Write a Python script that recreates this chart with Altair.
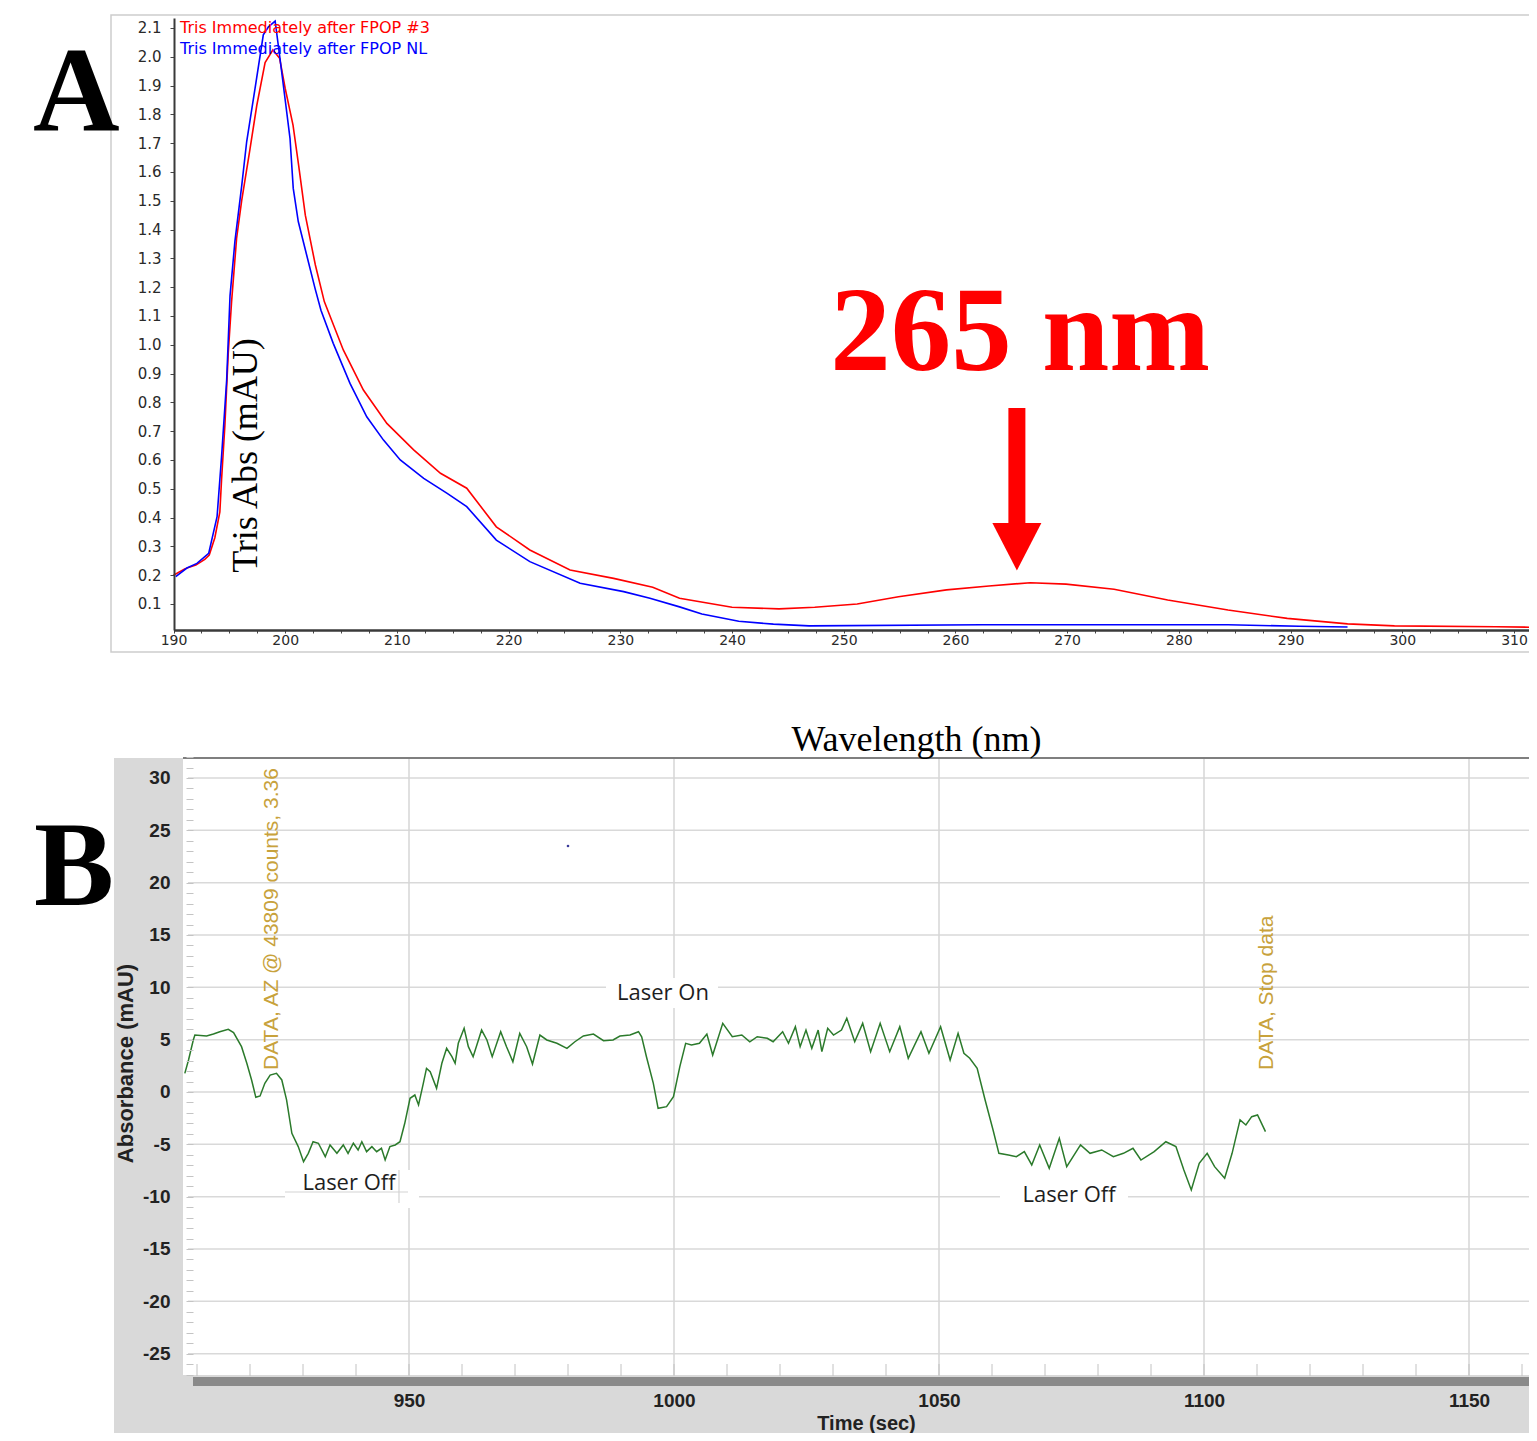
import altair as alt
import pandas as pd

W, H = 1521, 1425

# ---------------- Panel A : UV spectra ----------------
series_names = ["Tris Immediately after FPOP #3", "Tris Immediately after FPOP NL"]
series_colors = ["#ff0000", "#0000ff"]

red_nm = [190, 191, 192, 192.8, 193.2, 193.7, 194.15, 194.3, 194.6, 194.9,
          195.2, 195.65, 196.1, 196.85, 197.45, 198.2, 198.9, 199.5, 200.0, 200.7,
          201.2, 201.8, 202.7, 203.5, 205.2, 207.0, 209.1, 211.5, 213.9, 216.25,
          218.9, 221.9, 225.5, 229.4, 232.9, 235.3, 240.0, 244.2, 247.4, 251.2,
          254.9, 259.2, 263.0, 266.7, 269.9, 274.2, 279.0, 284.4, 289.7, 295.1,
          299.3, 308.4, 312.1]
red_abs = [0.200, 0.222, 0.235, 0.255, 0.27, 0.33, 0.42, 0.53, 0.72, 0.97,
           1.15, 1.37, 1.50, 1.68, 1.83, 1.98, 2.024, 1.995, 1.89, 1.763,
           1.624, 1.45, 1.277, 1.15, 0.982, 0.843, 0.727, 0.635, 0.554, 0.502,
           0.368, 0.2875, 0.218, 0.189, 0.158, 0.12, 0.0885, 0.083, 0.0885, 0.10,
           0.125, 0.149, 0.1625, 0.174, 0.169, 0.151, 0.114, 0.079, 0.05, 0.031,
           0.024, 0.021, 0.019]

blue_nm = [190.2, 191.2, 192.1, 193.15, 193.9, 194.3, 194.76, 195.06, 195.5, 196.1,
           196.55, 197.3, 198.04, 198.5, 199.1, 199.53, 199.98, 200.43, 200.72, 201.17,
           201.92, 202.67, 203.2, 204.3, 205.8, 207.3, 208.8, 210.3, 212.4, 214.5,
           216.25, 218.9, 221.9, 226.4, 230.3, 232.65, 235.3, 237.3, 240.6, 243.7,
           246.9, 262.4, 284.4, 290.8, 295.1]
blue_abs = [0.195, 0.225, 0.241, 0.276, 0.403, 0.61, 0.878, 1.17, 1.36, 1.55,
            1.705, 1.89, 2.076, 2.104, 2.124, 1.995, 1.856, 1.717, 1.543, 1.428,
            1.312, 1.196, 1.12, 1.005, 0.866, 0.75, 0.669, 0.60, 0.536, 0.484,
            0.438, 0.322, 0.247, 0.172, 0.143, 0.12, 0.09, 0.065, 0.04, 0.03,
            0.024, 0.028, 0.028, 0.0226, 0.02]

a_yticks = [round(0.1 * i, 1) for i in range(1, 22)]
a_xticks = [190 + 2.5 * i for i in range(49)]

peak_nm = [265.5]          # arrow position (nm)
peak_label = ["265 nm"]

# ---------------- Panel B : absorbance vs time ----------------
b_time = [907.7, 908.4, 909.3, 909.6, 911.8, 913.1, 914.3, 915.9, 916.9, 918.4,
          919.4, 920.3, 921.1, 921.9, 922.8, 923.8, 925.0, 926.0, 926.9, 927.9,
          929.1, 930.1, 931.0, 931.9, 932.9, 934.2, 935.1, 936.4, 937.6, 938.5,
          939.5, 940.4, 941.1, 942.0, 943.0, 943.9, 944.8, 945.5, 946.4, 947.4,
          948.3, 949.2, 950.2, 951.1, 951.8, 952.7, 953.3, 954.0, 955.2, 956.2,
          957.1, 958.1, 958.7, 959.3, 960.4, 961.2, 962.1, 963.7, 964.7, 965.7,
          967.3, 968.4, 969.6, 970.9, 972.2, 973.3, 974.7, 976.0, 977.9, 979.8,
          981.3, 982.9, 984.8, 986.7, 988.5, 989.8, 991.7, 993.3, 993.9, 994.8,
          996.1, 997.0, 998.6, 999.9, 1001.1, 1002.2, 1003.3, 1004.8, 1006.2, 1007.3,
          1009.2, 1011.0, 1012.8, 1014.3, 1015.7, 1017.6, 1018.7, 1020.5, 1021.6, 1022.9,
          1023.8, 1024.9, 1026.0, 1027.2, 1027.9, 1029.0, 1030.1, 1031.6, 1032.6, 1034.1,
          1035.6, 1037.1, 1038.9, 1040.7, 1042.6, 1044.2, 1046.6, 1048.1, 1050.3, 1052.1,
          1053.6, 1054.7, 1055.8, 1057.2, 1058.7, 1060.2, 1061.3, 1063.1, 1064.6, 1066.1,
          1067.5, 1069.0, 1070.8, 1072.7, 1074.1, 1076.7, 1078.5, 1080.7, 1082.9, 1084.8,
          1086.6, 1088.1, 1090.6, 1092.8, 1094.7, 1096.2, 1097.6, 1099.1, 1100.6, 1102.0,
          1103.9, 1105.3, 1106.8, 1107.9, 1109.0, 1110.1, 1111.6]
b_abs = [1.78, 3.06, 4.97, 5.44, 5.35, 5.54, 5.76, 5.99, 5.67, 4.33,
         2.74, 1.15, -0.51, -0.38, 0.83, 1.62, 1.78, 1.15, -0.76, -3.95,
         -5.22, -6.66, -5.86, -4.75, -4.90, -6.18, -5.06, -5.86, -5.06, -5.86,
         -4.90, -5.54, -4.75, -5.70, -5.22, -5.70, -5.38, -6.50, -5.22, -5.06,
         -4.75, -2.99, -0.60, -0.29, -1.24, 0.83, 2.26, 1.94, 0.35, 2.74,
         4.17, 3.37, 2.74, 4.65, 6.08, 4.33, 3.37, 5.92, 4.97, 3.37,
         5.76, 4.33, 2.89, 5.60, 4.33, 2.67, 5.44, 4.97, 4.65, 4.17,
         4.80, 5.35, 5.54, 4.90, 4.97, 5.35, 5.44, 5.76, 5.28, 3.37,
         0.83, -1.56, -1.40, -0.45, 2.42, 4.65, 4.49, 4.65, 5.54, 3.53,
         6.56, 5.28, 5.44, 4.80, 5.28, 5.13, 4.80, 5.76, 4.65, 6.24,
         4.33, 5.92, 4.17, 5.92, 3.85, 6.08, 5.44, 5.92, 7.04, 4.80,
         6.56, 3.85, 6.56, 3.85, 6.24, 3.22, 5.76, 3.70, 6.24, 3.06,
         5.60, 3.70, 3.22, 2.26, -0.76, -3.63, -5.86, -6.02, -6.18, -5.70,
         -6.97, -5.06, -7.29, -4.42, -7.13, -5.06, -5.86, -5.54, -6.18, -5.86,
         -5.38, -6.50, -5.70, -4.75, -5.22, -7.45, -9.36, -6.81, -5.86, -7.13,
         -8.25, -5.86, -2.67, -3.15, -2.36, -2.20, -3.79]

b_yticks = list(range(-27, 33))
b_grid_y = list(range(-25, 31, 5))
b_grid_x = [950, 1000, 1050, 1100, 1150]
b_minor_x = list(range(910, 1161, 10))
b_event_time = [925.3, 1113.1]
b_event_text = ["DATA, AZ @ 43809 counts, 3.36", "DATA, Stop data"]
b_stray_time = [980.0]
b_stray_abs = [23.5]

# ---------------- scales & axes ----------------
sxA = alt.Scale(domain=[190, 312.06], range=[165.5, 1529], nice=False, zero=False)
syA = alt.Scale(domain=[0.00972, 2.1347], range=[622, 10], nice=False, zero=False)
sxB = alt.Scale(domain=[909.245, 1162.83], range=[185, 1529], nice=False, zero=False)
syB = alt.Scale(domain=[-27.04, 32.006], range=[1367, 749], nice=False, zero=False)

axXA = alt.Axis(orient="bottom", offset=-(H - 622), values=a_xticks, grid=False,
                labelExpr="datum.value % 10 === 0 ? '' + datum.value : ''",
                domain=True, domainColor="#3a3a3a", domainWidth=2.5,
                ticks=True, tickSize=3, tickColor="#444", tickWidth=1,
                labelFont="DejaVu Sans", labelFontSize=14, labelColor="#2a2a2a",
                labelPadding=0, labelFlush=False, labelOverlap=False,
                title="Wavelength (nm)", titleFont="Liberation Serif", titleFontSize=36,
                titleFontWeight="normal", titleColor="#000", titleX=908, titleY=120,
                titleAlign="center", titleBaseline="alphabetic", zindex=1)
axYA = alt.Axis(orient="left", offset=-166, values=a_yticks, format=".1f", grid=False,
                domain=True, domainColor="#3a3a3a", domainWidth=2,
                ticks=True, tickSize=4, tickColor="#444", tickWidth=1,
                labelFont="DejaVu Sans", labelFontSize=15, labelColor="#2a2a2a",
                labelPadding=9, labelOverlap=False,
                title="Tris Abs (mAU)", titleFont="Liberation Serif", titleFontSize=36,
                titleFontWeight="normal", titleColor="#000", titleAngle=270,
                titleX=82, titleY=447, titleAlign="center", titleBaseline="alphabetic",
                zindex=1)
axXB = alt.Axis(orient="bottom", offset=-(H - 1373), values=b_grid_x, grid=False,
                labelExpr="'' + datum.value",
                domain=False, ticks=False, tickSize=0,
                labelFont="Liberation Sans", labelFontWeight="bold", labelFontSize=19,
                labelColor="#222", labelPadding=10, labelBaseline="top",
                labelFlush=False, labelOverlap=False,
                title="Time (sec)", titleFont="Liberation Sans", titleFontSize=20,
                titleFontWeight="bold", titleColor="#222", titleX=858, titleY=48,
                titleAlign="center", titleBaseline="alphabetic", zindex=1)
axYB = alt.Axis(orient="left", offset=-185, values=b_yticks, grid=False,
                labelExpr="(datum.value % 5 === 0 && datum.value >= -25 && datum.value <= 30) ? '' + datum.value : ''",
                domain=False, ticks=True, tickSize=7, tickColor="#c4c4c4", tickWidth=1,
                labelFont="Liberation Sans", labelFontWeight="bold", labelFontSize=19,
                labelColor="#222", labelPadding=16, labelOverlap=False,
                title="Absorbance (mAU)", titleFont="Liberation Sans", titleFontSize=22,
                titleFontWeight="bold", titleColor="#222", titleAngle=270,
                titleX=-68, titleY=1055, titleAlign="center", titleBaseline="middle",
                zindex=1)


def xA(f):
    return alt.X(f"{f}:Q", scale=sxA, axis=axXA)


def yA(f):
    return alt.Y(f"{f}:Q", scale=syA, axis=axYA)


def xB(f):
    return alt.X(f"{f}:Q", scale=sxB, axis=axXB)


def yB(f):
    return alt.Y(f"{f}:Q", scale=syB, axis=axYB)


one = pd.DataFrame({"k": [0]})

# ---------------- Panel A layers ----------------
dfA = pd.DataFrame({
    "nm": red_nm + blue_nm,
    "abs": red_abs + blue_abs,
    "series": [series_names[0]] * len(red_nm) + [series_names[1]] * len(blue_nm),
})

frameA = alt.Chart(one).mark_rect(fill="white", stroke="#cdcdcd", strokeWidth=1.5).encode(
    x=alt.value(103), x2=alt.value(1545), y=alt.value(7), y2=alt.value(644))

linesA = alt.Chart(dfA).mark_line(strokeWidth=1.6).encode(
    x=xA("nm"), y=yA("abs"),
    color=alt.Color("series:N", scale=alt.Scale(domain=series_names, range=series_colors), legend=None),
    detail="series:N")

legend_red = alt.Chart(pd.DataFrame({"label": [series_names[0]]})).mark_text(
    font="DejaVu Sans", fontSize=16, color=series_colors[0], align="left", baseline="alphabetic"
).encode(x=alt.value(172), y=alt.value(25), text="label:N")
legend_blue = alt.Chart(pd.DataFrame({"label": [series_names[1]]})).mark_text(
    font="DejaVu Sans", fontSize=16, color=series_colors[1], align="left", baseline="alphabetic"
).encode(x=alt.value(172), y=alt.value(46), text="label:N")

dfArrow = pd.DataFrame({"nm": peak_nm, "top": [0.7806], "bottom": [0.374], "head": [0.2984]})
shaft = alt.Chart(dfArrow).mark_rule(color="#ff0000", strokeWidth=17).encode(
    x=xA("nm"), y=yA("top"), y2="bottom:Q")
head = alt.Chart(dfArrow).mark_point(
    shape="M-1,-0.97L1,-0.97L0,0.97Z", filled=True, color="#ff0000", opacity=1,
    size=2401, strokeWidth=0).encode(x=xA("nm"), y=yA("head"))
label265 = alt.Chart(pd.DataFrame({"nm": [265.8], "abs": [0.9125], "label": peak_label})).mark_text(
    font="Liberation Serif", fontSize=121, fontWeight="bold", color="#ff0000",
    align="center", baseline="alphabetic").encode(x=xA("nm"), y=yA("abs"), text="label:N")

panelA = alt.layer(frameA, linesA, legend_red, legend_blue, shaft, head, label265)

# ---------------- Panel B layers ----------------
dfB = pd.DataFrame({"t": b_time, "v": b_abs})

bgB = alt.Chart(one).mark_rect(fill="#d9d9d9").encode(
    x=alt.value(106), x2=alt.value(1545), y=alt.value(750), y2=alt.value(1445))
whiteB = alt.Chart(one).mark_rect(fill="#ffffff").encode(
    x=alt.value(175), x2=alt.value(1545), y=alt.value(750), y2=alt.value(1367))
toplineB = alt.Chart(one).mark_rule(color="#555555", strokeWidth=1.5).encode(
    x=alt.value(175), x2=alt.value(1545), y=alt.value(750))
hgrid = alt.Chart(pd.DataFrame({"v": b_grid_y})).mark_rule(color="#d9d9d9", strokeWidth=1.5).encode(
    y=yB("v"), x=alt.value(180), x2=alt.value(1545))
vgrid = alt.Chart(pd.DataFrame({"t": b_grid_x})).mark_rule(color="#d6d6d6", strokeWidth=1.5).encode(
    x=xB("t"), y=alt.value(751), y2=alt.value(1367))
minor = alt.Chart(pd.DataFrame({"t": b_minor_x})).mark_rule(color="#c2c2c2", strokeWidth=1).encode(
    x=xB("t"), y=alt.value(1356), y2=alt.value(1368))
barB = alt.Chart(one).mark_rect(fill="#8a8a8a").encode(
    x=alt.value(185), x2=alt.value(1545), y=alt.value(1369), y2=alt.value(1378))

box_on = alt.Chart(one).mark_rect(fill="white").encode(
    x=alt.value(598), x2=alt.value(710), y=alt.value(970), y2=alt.value(1000))
box_off1 = alt.Chart(one).mark_rect(fill="white").encode(
    x=alt.value(277), x2=alt.value(411), y=alt.value(1162), y2=alt.value(1200))
box_off2 = alt.Chart(one).mark_rect(fill="white").encode(
    x=alt.value(992), x2=alt.value(1120), y=alt.value(1175), y2=alt.value(1202))
art_h = alt.Chart(one).mark_rule(color="#d3d3d3", strokeWidth=1.2).encode(
    x=alt.value(277), x2=alt.value(400), y=alt.value(1184))
art_v = alt.Chart(one).mark_rule(color="#d3d3d3", strokeWidth=1.2).encode(
    x=alt.value(391), y=alt.value(1162), y2=alt.value(1195))

greenB = alt.Chart(dfB).mark_line(color="#2b7a2b", strokeWidth=1.5).encode(
    x=xB("t"), y=yB("v"))
dotB = alt.Chart(pd.DataFrame({"t": b_stray_time, "v": b_stray_abs})).mark_point(
    filled=True, color="#3a3a9a", size=7, opacity=1).encode(x=xB("t"), y=yB("v"))

events = alt.Chart(pd.DataFrame({"t": b_event_time, "label": b_event_text})).mark_text(
    font="Liberation Sans", fontSize=21, color="#c8a23c", angle=270,
    align="left", baseline="alphabetic").encode(x=xB("t"), y=alt.value(1062), text="label:N")


def laser_text(txt, x, y):
    return alt.Chart(pd.DataFrame({"label": [txt]})).mark_text(
        font="Open Sans", fontSize=22, color="#1e1e1e", align="center", baseline="middle"
    ).encode(x=alt.value(x), y=alt.value(y), text="label:N")


laser_on = laser_text("Laser On", 655, 985)
laser_off1 = laser_text("Laser Off", 341, 1175)
laser_off2 = laser_text("Laser Off", 1061, 1187)

panelB = alt.layer(bgB, whiteB, toplineB, hgrid, vgrid, minor, barB,
                   box_on, box_off1, box_off2, art_h, art_v,
                   greenB, dotB, events, laser_on, laser_off1, laser_off2)

# ---------------- panel letters ----------------
letterA = alt.Chart(pd.DataFrame({"label": ["A"]})).mark_text(
    font="Liberation Serif", fontSize=120, fontWeight="bold", color="#000",
    align="left", baseline="alphabetic").encode(x=alt.value(25), y=alt.value(122), text="label:N")
letterB = alt.Chart(pd.DataFrame({"label": ["B"]})).mark_text(
    font="Liberation Serif", fontSize=120, fontWeight="bold", color="#000",
    align="left", baseline="alphabetic").encode(x=alt.value(26), y=alt.value(897), text="label:N")

chart = alt.layer(panelA, panelB, letterA, letterB).resolve_scale(
    x="independent", y="independent", color="independent"
).properties(
    width=W, height=H, autosize=alt.AutoSizeParams(type="none"), padding=0
).configure_view(strokeWidth=0)

chart.save("out.html", embed_options={"renderer": "svg", "actions": False})
